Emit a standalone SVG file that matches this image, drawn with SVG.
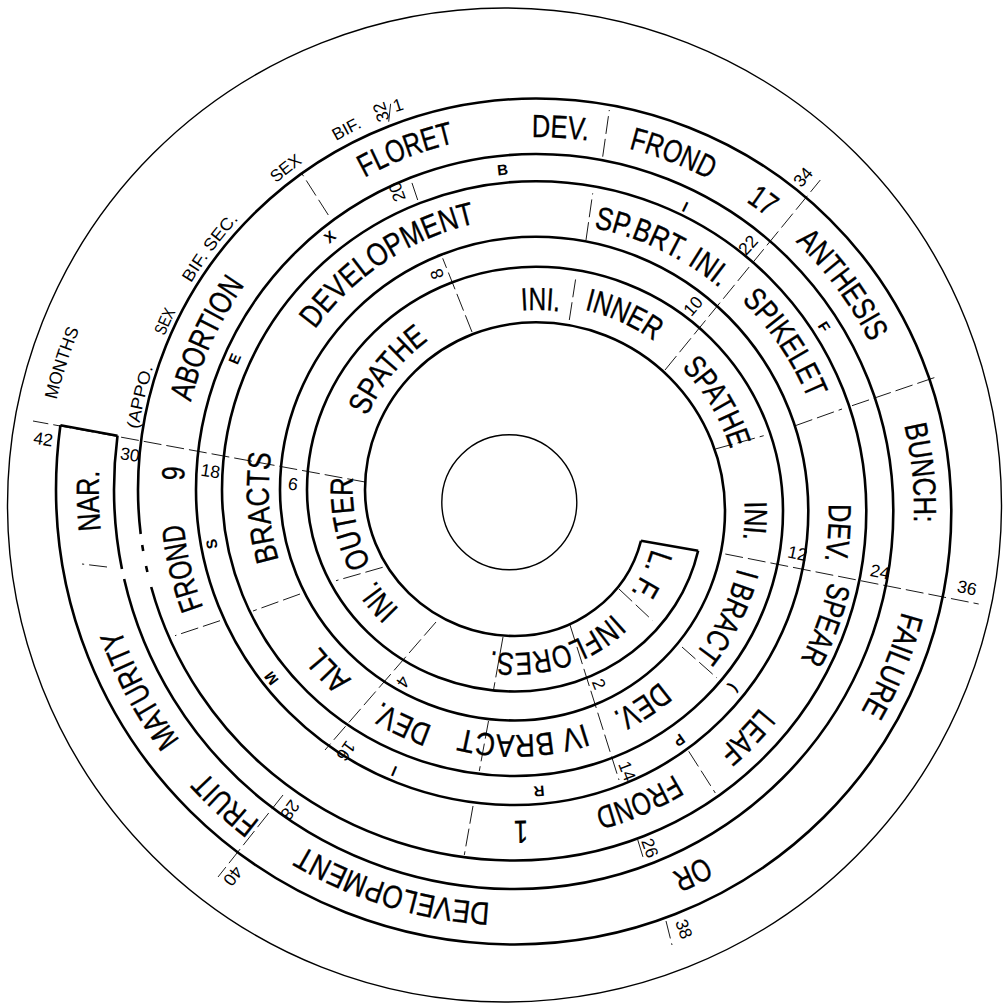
<svg xmlns="http://www.w3.org/2000/svg" width="1008" height="1003" viewBox="0 0 1008 1003">
<style>
.sp{fill:none;stroke:#000;stroke-width:2.6;stroke-linejoin:round}
.ci{fill:none;stroke:#000;stroke-width:1.4}
.tk line{stroke:#000;stroke-width:0.9;stroke-dasharray:18 5}
.w{font-family:"Liberation Sans",Arial,Helvetica,sans-serif;font-size:32px;fill:#000;stroke:#000;stroke-width:0.35;text-anchor:middle}
.o{font-family:"Liberation Sans",Arial,Helvetica,sans-serif;font-size:17px;fill:#000;text-anchor:middle}
.lt text{font-family:"Liberation Sans",Arial,Helvetica,sans-serif;font-size:15px;font-weight:bold;fill:#000;text-anchor:middle}
.nm text{font-family:"Liberation Sans",Arial,Helvetica,sans-serif;font-size:17.5px;fill:#000;text-anchor:middle}
</style>
<defs>
<path id="r142" d="M0,142 A142,142 0 1 1 0,-142 A142,142 0 1 1 0,142"/>
<path id="r162" d="M0,162 A162,162 0 1 1 0,-162 A162,162 0 1 1 0,162"/>
<path id="r166" d="M0,166 A166,166 0 1 1 0,-166 A166,166 0 1 1 0,166"/>
<path id="r184" d="M0,184 A184,184 0 1 1 0,-184 A184,184 0 1 1 0,184"/>
<path id="r201" d="M0,201 A201,201 0 1 1 0,-201 A201,201 0 1 1 0,201"/>
<path id="r204" d="M0,204 A204,204 0 1 1 0,-204 A204,204 0 1 1 0,204"/>
<path id="r207" d="M0,207 A207,207 0 1 1 0,-207 A207,207 0 1 1 0,207"/>
<path id="r224" d="M0,224 A224,224 0 1 1 0,-224 A224,224 0 1 1 0,224"/>
<path id="r230" d="M0,230 A230,230 0 1 1 0,-230 A230,230 0 1 1 0,230"/>
<path id="r246" d="M0,246 A246,246 0 1 1 0,-246 A246,246 0 1 1 0,246"/>
<path id="r250" d="M0,250 A250,250 0 1 1 0,-250 A250,250 0 1 1 0,250"/>
<path id="r273" d="M0,273 A273,273 0 1 1 0,-273 A273,273 0 1 1 0,273"/>
<path id="r289" d="M0,289 A289,289 0 1 1 0,-289 A289,289 0 1 1 0,289"/>
<path id="r294" d="M0,294 A294,294 0 1 1 0,-294 A294,294 0 1 1 0,294"/>
<path id="r308" d="M0,308 A308,308 0 1 1 0,-308 A308,308 0 1 1 0,308"/>
<path id="r310" d="M0,310 A310,310 0 1 1 0,-310 A310,310 0 1 1 0,310"/>
<path id="r314" d="M0,314 A314,314 0 1 1 0,-314 A314,314 0 1 1 0,314"/>
<path id="r322" d="M0,322 A322,322 0 1 1 0,-322 A322,322 0 1 1 0,322"/>
<path id="r333" d="M0,333 A333,333 0 1 1 0,-333 A333,333 0 1 1 0,333"/>
<path id="r352" d="M0,352 A352,352 0 1 1 0,-352 A352,352 0 1 1 0,352"/>
<path id="r356" d="M0,356 A356,356 0 1 1 0,-356 A356,356 0 1 1 0,356"/>
<path id="r374" d="M0,374 A374,374 0 1 1 0,-374 A374,374 0 1 1 0,374"/>
<path id="r378" d="M0,378 A378,378 0 1 1 0,-378 A378,378 0 1 1 0,378"/>
<path id="r394" d="M0,394 A394,394 0 1 1 0,-394 A394,394 0 1 1 0,394"/>
<path id="r400" d="M0,400 A400,400 0 1 1 0,-400 A400,400 0 1 1 0,400"/>
<path id="r402" d="M0,402 A402,402 0 1 1 0,-402 A402,402 0 1 1 0,402"/>
<path id="r414" d="M0,414 A414,414 0 1 1 0,-414 A414,414 0 1 1 0,414"/>
<path id="r416" d="M0,416 A416,416 0 1 1 0,-416 A416,416 0 1 1 0,416"/>
<path id="r418" d="M0,418 A418,418 0 1 1 0,-418 A418,418 0 1 1 0,418"/>
<path id="r460" d="M0,460 A460,460 0 1 1 0,-460 A460,460 0 1 1 0,460"/>
</defs>
<rect width="1008" height="1003" fill="#fff"/>
<g id="frame">
<circle class="ci" cx="504.5" cy="505" r="497"/>
<circle class="ci" cx="509.3" cy="502.3" r="67.5"/>
</g>
<g id="spiral">
<path class="sp" d="M641,540.7 A130,125 0 0 1 514.75,636 A149.75,146.25 0 0 1 365,489.75 A171,167.45 0 0 1 536,322.3 A189,188.7 0 0 1 725,511 A210.25,209.5 0 0 1 514.75,720.5 A234.75,230.75 0 0 1 280,489.75 A256,253.05 0 0 1 536,236.7 A272.3,274.3 0 0 1 808.3,511 A293.55,294 0 0 1 514.75,805 A318.75,315.25 0 0 1 196,489.75 A340,335.75 0 0 1 536,154 A357.3,357 0 0 1 893.3,511 A378.55,378 0 0 1 514.75,889 A400.75,399.25 0 0 1 124.15,579 M121.95,569 A400.75,399.25 0 0 1 114,489.75 A422,420.75 0 0 1 117.5,435.7"/>
<path class="sp" d="M698.15,550.7 A188,180.5 0 0 1 514.75,691.5 A207.75,201.75 0 0 1 307,489.75 A229,222.95 0 0 1 536,266.8 A247,244.2 0 0 1 783,511 A268.25,265 0 0 1 514.75,776 A292.75,286.25 0 0 1 222,489.75 A314,308.55 0 0 1 536,181.2 A330.3,329.8 0 0 1 866.3,511 A351.55,349.5 0 0 1 514.75,860.5 A376.75,370.75 0 0 1 151.2,587 M147.4,572 A376.75,370.75 0 0 1 146.05,566 M143.2,551 A376.75,370.75 0 0 1 142.2,545 M140.7,534 A376.75,370.75 0 0 1 138,489.75 A398,391.25 0 0 1 536,98.5 A415.3,412.5 0 0 1 951.3,511 A436.55,433.5 0 0 1 514.75,944.5 A458.75,454.75 0 0 1 56,489.75 A480,476.25 0 0 1 60.4,425.3"/>
<path class="sp" d="M641,540.7 L698.15,550.7 M117.5,435.7 L60.4,425.3"/>
</g>
<g id="connectors" class="tk">
<line x1="619" y1="589" x2="652.7" y2="620.7"/>
<line x1="570" y1="625" x2="619" y2="780"/>
<line x1="637.7" y1="839.7" x2="644.3" y2="861.3"/>
<line x1="666" y1="921" x2="672" y2="945"/>
<line x1="503" y1="637" x2="493.5" y2="690"/>
<line x1="488.5" y1="721" x2="479.3" y2="771"/>
<line x1="473" y1="806" x2="464.3" y2="855"/>
<line x1="436" y1="622" x2="325" y2="750"/>
<line x1="283" y1="795" x2="218" y2="877"/>
<line x1="382.7" y1="567.3" x2="336" y2="580.7"/>
<line x1="365" y1="482" x2="33" y2="421"/>
<line x1="300" y1="594" x2="253" y2="611"/>
<line x1="220" y1="620.7" x2="175" y2="635.7"/>
<line x1="107" y1="567" x2="82" y2="564"/>
<line x1="472" y1="332" x2="442.7" y2="258.3"/>
<line x1="417.7" y1="200" x2="411" y2="180"/>
<line x1="388.7" y1="121.7" x2="391" y2="100"/>
<line x1="569.3" y1="320" x2="576" y2="276.7"/>
<line x1="665" y1="370" x2="820.3" y2="180"/>
<line x1="715.3" y1="449" x2="763.7" y2="435.7"/>
<line x1="795.3" y1="425.7" x2="842" y2="409"/>
<line x1="852" y1="405.7" x2="935.3" y2="377.3"/>
<line x1="725.3" y1="554" x2="978.7" y2="604"/>
<line x1="682" y1="647" x2="717" y2="678"/>
<line x1="688.7" y1="751.3" x2="715.3" y2="793"/>
<line x1="328.3" y1="215" x2="301.7" y2="173.3"/>
<line x1="602.7" y1="156.7" x2="609.3" y2="110"/>
<line x1="586" y1="240" x2="592.7" y2="193.3"/>
</g>
<g id="band-labels">
<g transform="translate(514.75,511) rotate(115.3)"><text class="w"><textPath href="#r142" startOffset="50%" textLength="49" lengthAdjust="spacingAndGlyphs">L. F.</textPath></text></g>
<g transform="translate(514.75,511) rotate(163)"><text class="w"><textPath href="#r142" startOffset="50%" textLength="132" lengthAdjust="spacingAndGlyphs">INFLORES.</textPath></text></g>
<g transform="translate(514.75,489.75) rotate(230.6)"><text class="w"><textPath href="#r166" startOffset="50%" textLength="38" lengthAdjust="spacingAndGlyphs">INI.</textPath></text></g>
<g transform="translate(514.75,489.75) rotate(258.5)"><text class="w"><textPath href="#r162" startOffset="50%" textLength="90" lengthAdjust="spacingAndGlyphs">OUTER</textPath></text></g>
<g transform="translate(536,489.75) rotate(308.9)"><text class="w"><textPath href="#r184" startOffset="50%" textLength="99" lengthAdjust="spacingAndGlyphs">SPATHE</textPath></text></g>
<g transform="translate(536,511) rotate(1.3)"><text class="w"><textPath href="#r201" startOffset="50%" textLength="38" lengthAdjust="spacingAndGlyphs">INI.</textPath></text></g>
<g transform="translate(536,511) rotate(24.2)"><text class="w"><textPath href="#r207" startOffset="50%" textLength="77" lengthAdjust="spacingAndGlyphs">INNER</textPath></text></g>
<g transform="translate(536,511) rotate(58.9)"><text class="w"><textPath href="#r204" startOffset="50%" textLength="96" lengthAdjust="spacingAndGlyphs">SPATHE</textPath></text></g>
<g transform="translate(514.75,511) rotate(92.4)"><text class="w"><textPath href="#r230" startOffset="50%" textLength="38" lengthAdjust="spacingAndGlyphs">INI.</textPath></text></g>
<g transform="translate(514.75,511) rotate(105.3)"><text class="w"><textPath href="#r230" startOffset="50%" textLength="7" lengthAdjust="spacingAndGlyphs">I</textPath></text></g>
<g transform="translate(514.75,511) rotate(118)"><text class="w"><textPath href="#r230" startOffset="50%" textLength="84" lengthAdjust="spacingAndGlyphs">BRACT</textPath></text></g>
<g transform="translate(514.75,511) rotate(146.9)"><text class="w"><textPath href="#r224" startOffset="50%" textLength="57" lengthAdjust="spacingAndGlyphs">DEV.</textPath></text></g>
<g transform="translate(514.75,511) rotate(177.9)"><text class="w"><textPath href="#r224" startOffset="50%" textLength="126" lengthAdjust="spacingAndGlyphs">IV BRACT</textPath></text></g>
<g transform="translate(514.75,489.75) rotate(205.7)"><text class="w"><textPath href="#r250" startOffset="50%" textLength="57" lengthAdjust="spacingAndGlyphs">DEV.</textPath></text></g>
<g transform="translate(514.75,489.75) rotate(226)"><text class="w"><textPath href="#r250" startOffset="50%" textLength="46" lengthAdjust="spacingAndGlyphs">ALL</textPath></text></g>
<g transform="translate(514.75,489.75) rotate(266)"><text class="w"><textPath href="#r246" startOffset="50%" textLength="108" lengthAdjust="spacingAndGlyphs">BRACTS</textPath></text></g>
<g transform="translate(536,489.75) rotate(326.6)"><text class="w"><textPath href="#r273" startOffset="50%" textLength="197" lengthAdjust="spacingAndGlyphs">DEVELOPMENT</textPath></text></g>
<g transform="translate(536,511) rotate(25.5)"><text class="w"><textPath href="#r289" startOffset="50%" textLength="141" lengthAdjust="spacingAndGlyphs">SP.BRT. INI.</textPath></text></g>
<g transform="translate(536,511) rotate(56)"><text class="w"><textPath href="#r294" startOffset="50%" textLength="120" lengthAdjust="spacingAndGlyphs">SPIKELET</textPath></text></g>
<g transform="translate(514.75,511) rotate(93.9)"><text class="w"><textPath href="#r314" startOffset="50%" textLength="57" lengthAdjust="spacingAndGlyphs">DEV.</textPath></text></g>
<g transform="translate(514.75,511) rotate(110.1)"><text class="w"><textPath href="#r322" startOffset="50%" textLength="83" lengthAdjust="spacingAndGlyphs">SPEAR</textPath></text></g>
<g transform="translate(514.75,511) rotate(134.2)"><text class="w"><textPath href="#r314" startOffset="50%" textLength="60" lengthAdjust="spacingAndGlyphs">LEAF</textPath></text></g>
<g transform="translate(514.75,511) rotate(156.9)"><text class="w"><textPath href="#r308" startOffset="50%" textLength="87" lengthAdjust="spacingAndGlyphs">FROND</textPath></text></g>
<g transform="translate(514.75,511) rotate(178.9)"><text class="w"><textPath href="#r310" startOffset="50%" textLength="14" lengthAdjust="spacingAndGlyphs">1</textPath></text></g>
<g transform="translate(514.75,489.75) rotate(256.7)"><text class="w"><textPath href="#r333" startOffset="50%" textLength="86" lengthAdjust="spacingAndGlyphs">FROND</textPath></text></g>
<g transform="translate(536,489.75) rotate(272.6)"><text class="w"><textPath href="#r352" startOffset="50%" textLength="14" lengthAdjust="spacingAndGlyphs">9</textPath></text></g>
<g transform="translate(536,489.75) rotate(294.7)"><text class="w"><textPath href="#r356" startOffset="50%" textLength="130" lengthAdjust="spacingAndGlyphs">ABORTION</textPath></text></g>
<g transform="translate(536,489.75) rotate(339)"><text class="w"><textPath href="#r356" startOffset="50%" textLength="97" lengthAdjust="spacingAndGlyphs">FLORET</textPath></text></g>
<g transform="translate(536,511) rotate(3.7)"><text class="w"><textPath href="#r374" startOffset="50%" textLength="57" lengthAdjust="spacingAndGlyphs">DEV.</textPath></text></g>
<g transform="translate(536,511) rotate(21)"><text class="w"><textPath href="#r374" startOffset="50%" textLength="87" lengthAdjust="spacingAndGlyphs">FROND</textPath></text></g>
<g transform="translate(536,511) rotate(36.2)"><text class="w"><textPath href="#r374" startOffset="50%" textLength="27" lengthAdjust="spacingAndGlyphs">17</textPath></text></g>
<g transform="translate(536,511) rotate(53.55)"><text class="w"><textPath href="#r374" startOffset="50%" textLength="126" lengthAdjust="spacingAndGlyphs">ANTHESIS</textPath></text></g>
<g transform="translate(536,511) rotate(84.3)"><text class="w"><textPath href="#r378" startOffset="50%" textLength="98" lengthAdjust="spacingAndGlyphs">BUNCH:</textPath></text></g>
<g transform="translate(514.75,511) rotate(112.3)"><text class="w"><textPath href="#r400" startOffset="50%" textLength="108" lengthAdjust="spacingAndGlyphs">FAILURE</textPath></text></g>
<g transform="translate(514.75,511) rotate(153.9)"><text class="w"><textPath href="#r394" startOffset="50%" textLength="37" lengthAdjust="spacingAndGlyphs">OR</textPath></text></g>
<g transform="translate(514.75,489.75) rotate(197.1)"><text class="w"><textPath href="#r414" startOffset="50%" textLength="198" lengthAdjust="spacingAndGlyphs">DEVELOPMENT</textPath></text></g>
<g transform="translate(514.75,489.75) rotate(222.6)"><text class="w"><textPath href="#r418" startOffset="50%" textLength="74" lengthAdjust="spacingAndGlyphs">FRUIT</textPath></text></g>
<g transform="translate(514.75,489.75) rotate(241.9)"><text class="w"><textPath href="#r418" startOffset="50%" textLength="127" lengthAdjust="spacingAndGlyphs">MATURITY</textPath></text></g>
<g transform="translate(514.75,489.75) rotate(268.5)"><text class="w"><textPath href="#r416" startOffset="50%" textLength="60" lengthAdjust="spacingAndGlyphs">NAR.</textPath></text></g>
</g>
<g id="strip-letters" class="lt">
<text transform="translate(734,688) rotate(128.9)" y="5">(</text>
<text transform="translate(679,740) rotate(144.4)" y="5">P</text>
<text transform="translate(539,791) rotate(175)" y="5">R</text>
<text transform="translate(394,771) rotate(203.2)" y="5">I</text>
<text transform="translate(271.5,678) rotate(232.4)" y="5">M</text>
<text transform="translate(212,544) rotate(259.8)" y="5">S</text>
<text transform="translate(235,359) rotate(293.5)" y="5">E</text>
<text transform="translate(330,237) rotate(320.8)" y="5">X</text>
<text transform="translate(502.5,170) rotate(354)" y="5">B</text>
<text transform="translate(685,207) rotate(26.1)" y="5">I</text>
<text transform="translate(824,327) rotate(57.4)" y="5">F</text>
</g>
<g id="months" class="nm">
<text transform="translate(599,684) rotate(68)" y="6">2</text>
<text transform="translate(627,771) rotate(69)" y="6">14</text>
<text transform="translate(650,848) rotate(70)" y="6">26</text>
<text transform="translate(684,929) rotate(70)" y="6">38</text>
<text transform="translate(403,682) rotate(124)" y="6">4</text>
<text transform="translate(346,751) rotate(126)" y="6">16</text>
<text transform="translate(290,810) rotate(127)" y="6">28</text>
<text transform="translate(233,876) rotate(128)" y="6">40</text>
<text transform="translate(293,484) rotate(9)" y="6">6</text>
<text transform="translate(210.5,471) rotate(9)" y="6">18</text>
<text transform="translate(130,454.5) rotate(9)" y="6">30</text>
<text transform="translate(43.3,439) rotate(9)" y="6">42</text>
<text transform="translate(437,274) rotate(-110)" y="6">8</text>
<text transform="translate(397,192) rotate(-110)" y="6">20</text>
<text transform="translate(381,112) rotate(-108)" y="6">32</text>
<text transform="translate(693,306) rotate(-49)" y="6">10</text>
<text transform="translate(748,245) rotate(-48)" y="6">22</text>
<text transform="translate(803,177) rotate(-49)" y="6">34</text>
<text transform="translate(797.5,553.5) rotate(12)" y="6">12</text>
<text transform="translate(880,572) rotate(12)" y="6">24</text>
<text transform="translate(967,588) rotate(12)" y="6">36</text>
<text transform="translate(398,105) rotate(-18)" y="6">1</text>
</g>
<g id="outer-notes">
<g transform="translate(504.5,505) rotate(287.8)"><text class="o" style="font-size:18px"><textPath href="#r460" startOffset="50%" textLength="74" lengthAdjust="spacingAndGlyphs">MONTHS</textPath></text></g>
<g transform="translate(536,489.75) rotate(283.2)"><text class="o"><textPath href="#r402" startOffset="50%" textLength="64" lengthAdjust="spacingAndGlyphs">(APPO.</textPath></text></g>
<g transform="translate(536,489.75) rotate(294.4)"><text class="o"><textPath href="#r402" startOffset="50%" textLength="27" lengthAdjust="spacingAndGlyphs">SEX</textPath></text></g>
<g transform="translate(536,489.75) rotate(306.6)"><text class="o"><textPath href="#r402" startOffset="50%" textLength="80" lengthAdjust="spacingAndGlyphs">BIF. SEC.</textPath></text></g>
<g transform="translate(536,489.75) rotate(322.1)"><text class="o"><textPath href="#r402" startOffset="50%" textLength="34" lengthAdjust="spacingAndGlyphs">SEX</textPath></text></g>
<g transform="translate(536,489.75) rotate(332.3)"><text class="o"><textPath href="#r402" startOffset="50%" textLength="30" lengthAdjust="spacingAndGlyphs">BIF.</textPath></text></g>
</g>
</svg>
